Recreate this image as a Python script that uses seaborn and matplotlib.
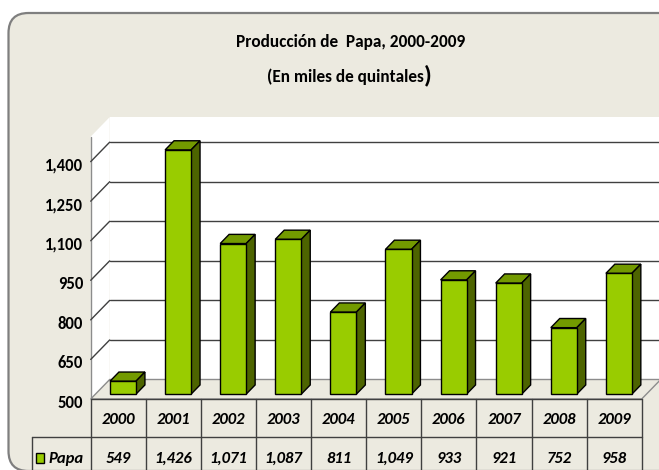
import matplotlib
matplotlib.use("Agg")
import matplotlib.pyplot as plt
import seaborn as sns
import pandas as pd
from matplotlib.patches import Polygon, FancyBboxPatch, Rectangle
from matplotlib.lines import Line2D
from matplotlib import transforms as mtrans
from matplotlib import font_manager as fm

# ---------------- data ----------------
years = ["2000", "2001", "2002", "2003", "2004", "2005", "2006", "2007", "2008", "2009"]
papa = [549, 1426, 1071, 1087, 811, 1049, 933, 921, 752, 958]
yticks = [500, 650, 800, 950, 1100, 1250, 1400]
ytick_labels = ["500", "650", "800", "950", "1,100", "1,250", "1,400"]
series_name = "Papa"
title1 = "Producción de  Papa, 2000-2009"
title2 = "(En miles de quintales"
title2_end = ")"

# ---------------- style ----------------
W, H, DPI = 659, 470, 100
BG = "#ECEAE0"
GREEN = "#99CC00"
GREEN_TOP = "#739A00"
GREEN_SIDE = "#4D6400"
LINE = "#404040"

sns.set_theme(style="white")
names = {f.name for f in fm.fontManager.ttflist}
fam = [f for f in ["Carlito", "Liberation Sans Narrow", "DejaVu Sans"] if f in names]
plt.rcParams["font.family"] = fam
plt.rcParams["text.color"] = "black"
plt.rcParams["xtick.color"] = "black"
plt.rcParams["ytick.color"] = "black"

fig = plt.figure(figsize=(W / DPI, H / DPI), dpi=DPI)
fig.patch.set_facecolor("white")

# background axes in pixel coordinates
bg = fig.add_axes([0, 0, 1, 1], zorder=0)
bg.set_xlim(0, W)
bg.set_ylim(H, 0)
bg.axis("off")
bg.add_patch(FancyBboxPatch((8.5, 13), 1200, 458,
                            boxstyle="round,pad=0,rounding_size=20",
                            fc=BG, ec="#7F7F7F", lw=1.6, clip_on=True))

# titles
TS = 12.4
t1 = bg.text(351, 42, title1, ha="center", va="center", fontsize=TS, fontweight="bold")
t2 = bg.text(345, 77, title2, ha="center", va="center", fontsize=TS, fontweight="bold")
fig.canvas.draw()
r = fig.canvas.get_renderer()
bb = t2.get_window_extent(r)
bg.text(bb.x1 + 0.5, 75.5, title2_end, ha="left", va="center",
        fontsize=TS * 1.45, fontweight="bold")

# plotting axes: front plane of the 3-D box
L, R, T, B = 90.7, 641.7, 136.6, 399.0
ax = fig.add_axes([L / W, 1 - B / H, (R - L) / W, (B - T) / H], zorder=1)
ax.patch.set_alpha(0)

df = pd.DataFrame({"Año": years, series_name: papa})
sns.barplot(data=df, x="Año", y=series_name, ax=ax, color=GREEN, saturation=1,
            width=0.472, edgecolor="black", linewidth=1, errorbar=None, zorder=5)
bars = list(ax.patches)

XMIN, XMAX, YMIN, YMAX = -0.5, 9.5, 500, 1495
ax.set_xlim(XMIN, XMAX)
ax.set_ylim(YMIN, YMAX)
pxx = (R - L) / (XMAX - XMIN)
pxy = (B - T) / (YMAX - YMIN)
DDX = 19 / pxx
DDY = 19.5 / pxy


def P(x, v, d):
    return (x + d * DDX, v + d * DDY)


# walls / floor
ax.add_patch(Polygon([P(XMIN, YMIN, 1), P(XMAX + 1, YMIN, 1), P(XMAX + 1, YMAX, 1), P(XMIN, YMAX, 1)],
                     closed=True, fc="white", ec="none", zorder=0, clip_on=False))
ax.add_patch(Polygon([P(XMIN, YMIN, 0), P(XMIN, YMAX, 0), P(XMIN, YMAX, 1), P(XMIN, YMIN, 1)],
                     closed=True, fc="white", ec="none", zorder=0, clip_on=False))
ax.add_patch(Polygon([P(XMIN, YMIN, 0), P(XMAX, YMIN, 0), P(XMAX, YMIN, 1), P(XMIN, YMIN, 1)],
                     closed=True, fc=BG, ec="#8C8C8C", lw=1, zorder=1, clip_on=False))
ax.add_line(Line2D([XMIN, XMIN], [YMIN, YMAX], color="#8C8C8C", lw=1, zorder=1, clip_on=False))
for v in yticks[1:]:
    a, b = P(XMIN, v, 1), P(XMAX + 1, v, 1)
    ax.add_line(Line2D([a[0], b[0]], [a[1], b[1]], color=LINE, lw=1, zorder=1, clip_on=False))
    a, b = P(XMIN, v, 0), P(XMIN, v, 1)
    ax.add_line(Line2D([a[0], b[0]], [a[1], b[1]], color=LINE, lw=1, zorder=1, clip_on=False))

# 3-D bars
D0, D1 = 0.25, 0.72
for p in bars:
    v = p.get_y() + p.get_height()
    w = p.get_width()
    x0 = p.get_x() + D0 * DDX
    p.set_x(x0)
    p.set_y(YMIN + D0 * DDY)
    p.set_height(v - YMIN)
    p.set_clip_on(False)
    sx = (D1 - D0) * DDX
    top = [(x0, v + D0 * DDY), (x0 + w, v + D0 * DDY),
           (x0 + w + sx, v + D1 * DDY), (x0 + sx, v + D1 * DDY)]
    side = [(x0 + w, YMIN + D0 * DDY), (x0 + w, v + D0 * DDY),
            (x0 + w + sx, v + D1 * DDY), (x0 + w + sx, YMIN + D1 * DDY)]
    ax.add_patch(Polygon(top, closed=True, fc=GREEN_TOP, ec="black", lw=1, zorder=4, clip_on=False))
    ax.add_patch(Polygon(side, closed=True, fc=GREEN_SIDE, ec="black", lw=1, zorder=4, clip_on=False))

# axes ticks
FS = 12
for s in ax.spines.values():
    s.set_visible(False)
ax.set_xlabel("")
ax.set_ylabel("")
ax.set_yticks(yticks, labels=ytick_labels)
ax.tick_params(axis="y", length=0, pad=5.5, labelsize=FS, labelcolor="black")
down = mtrans.ScaledTranslation(0, -2.5 / DPI, fig.dpi_scale_trans)
for lab in ax.get_yticklabels():
    lab.set_fontweight("bold")
    lab.set_transform(lab.get_transform() + down)
ax.set_xticks(range(len(years)), labels=years)
ax.tick_params(axis="x", length=0, pad=15, labelsize=FS, labelcolor="black")
for lab in ax.get_xticklabels():
    lab.set_fontweight("bold")
    lab.set_fontstyle("italic")
    lab.set_verticalalignment("center")

# data table
tb = mtrans.blended_transform_factory(ax.transData, bg.transData)
ROW1, ROW2, ROW3 = 399.0, 436.6, 480
ax.add_line(Line2D([XMIN, XMAX], [ROW1, ROW1], transform=tb, color=LINE, lw=1, zorder=6, clip_on=False))
ax.add_line(Line2D([XMIN, XMAX], [ROW2, ROW2], transform=tb, color=LINE, lw=1, zorder=6, clip_on=False))
for i in range(len(years) + 1):
    xb = XMIN + i
    ax.add_line(Line2D([xb, xb], [ROW1, ROW3], transform=tb, color=LINE, lw=1, zorder=6, clip_on=False))
for i, v in enumerate(papa):
    ax.text(i, 459, f"{v:,}", transform=tb, ha="center", va="center", fontsize=FS,
            fontweight="bold", fontstyle="italic", clip_on=False)

# legend cell
bg.add_line(Line2D([31.7, L], [ROW2, ROW2], color=LINE, lw=1))
bg.add_line(Line2D([31.7, 31.7], [ROW2, ROW3], color=LINE, lw=1))
bg.add_patch(Rectangle((36, 453), 7.5, 10, fc=GREEN, ec="black", lw=1))
bg.text(48, 459, series_name, ha="left", va="center", fontsize=FS,
        fontweight="bold", fontstyle="italic")

fig.savefig("out.png", dpi=DPI)
